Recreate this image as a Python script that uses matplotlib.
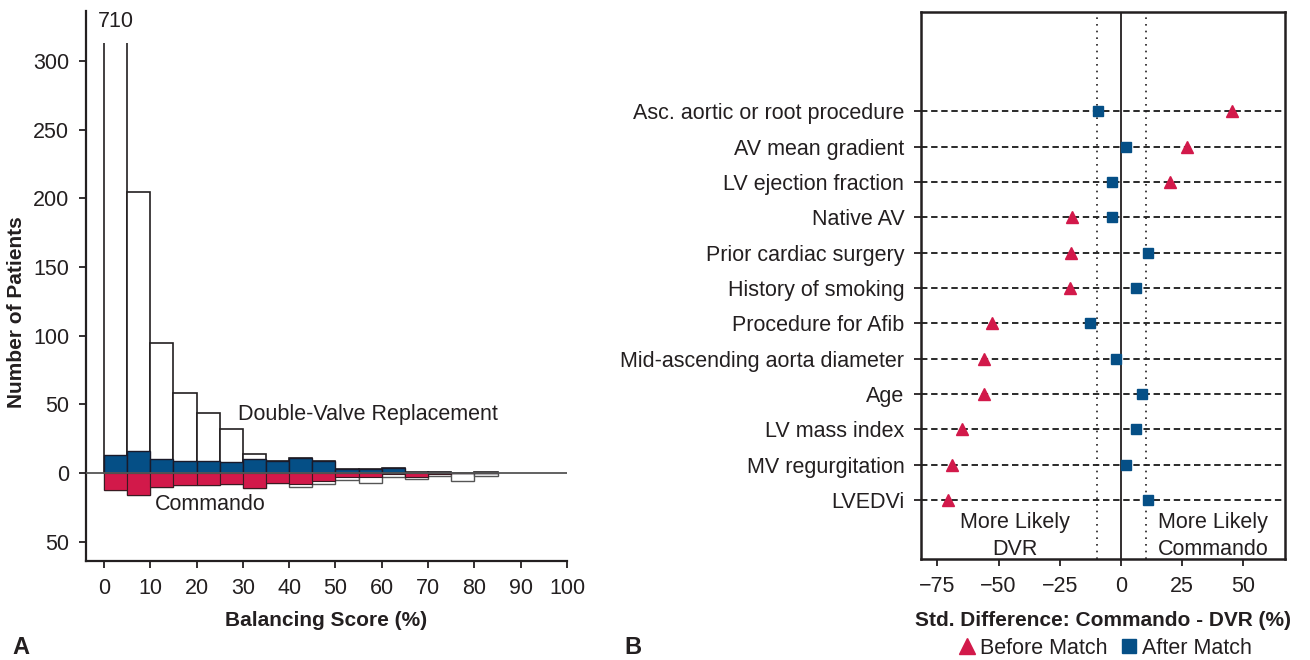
import matplotlib
matplotlib.use("Agg")
import matplotlib.pyplot as plt
from matplotlib.patches import Rectangle
from matplotlib.lines import Line2D
import numpy as np

plt.rcParams['font.family'] = ['Liberation Sans', 'DejaVu Sans']
INK = '#231f20'
RED = '#d2194a'
BLUE = '#054f86'
FS = 15.5
LFS = 15

# Panel A: balancing score histogram (5% bins)
bin_left = np.arange(0, 85, 5)
dvr_all = [710, 205, 95, 58, 44, 32, 14, 9, 11, 9, 3, 3, 4, 1, 1, 0, 1]
dvr_matched = [13, 16, 10, 9, 9, 8, 10, 9, 11, 9, 3, 3, 4, 0, 1, 0, 0]
cmd_all = [12, 16, 10, 9, 9, 8, 11, 7, 10, 8, 5, 7, 3, 4, 2, 6, 2]
cmd_matched = [12, 16, 10, 9, 9, 8, 11, 7, 8, 6, 3, 3, 1, 3, 1, 0, 0]
bar_cap = 313

# Panel B: standardized differences
variables = ['Asc. aortic or root procedure', 'AV mean gradient', 'LV ejection fraction',
             'Native AV', 'Prior cardiac surgery', 'History of smoking',
             'Procedure for Afib', 'Mid-ascending aorta diameter', 'Age',
             'LV mass index', 'MV regurgitation', 'LVEDVi']
before_match = [45.5, 27, 20, -20, -20.3, -20.7, -52.5, -56, -56, -65, -69, -70.8]
after_match = [-9.2, 1.9, -3.5, -3.5, 11.1, 6.2, -12.5, -2.2, 8.7, 6.2, 1.9, 11.1]

fig = plt.figure(figsize=(13.1, 6.6), dpi=100)
axA = fig.add_axes([0.0656, 0.15, 0.3672, 0.8333])
axB = fig.add_axes([0.703, 0.153, 0.278, 0.829])

# ---- Panel A ----
clip = Rectangle((-10, -100), 120, bar_cap + 100, transform=axA.transData)
white_up = axA.bar(bin_left, dvr_all, width=5, align='edge', color='white',
                   edgecolor=INK, linewidth=1.2, zorder=2)
for b in white_up:
    b.set_clip_path(clip)
axA.bar(bin_left, dvr_matched, width=5, align='edge', color=BLUE,
        edgecolor='#1a1a2a', linewidth=1.0, zorder=3)
axA.bar(bin_left, -np.array(cmd_all), width=5, align='edge', color='white',
        edgecolor='#555555', linewidth=1.0, zorder=2)
axA.bar(bin_left, -np.array(cmd_matched), width=5, align='edge', color=RED,
        edgecolor='#3a1a22', linewidth=0.8, zorder=3)
axA.axhline(0, color='#555555', linewidth=1.3, zorder=4)

axA.text(bin_left[0] + 2.5, 329, str(dvr_all[0]), ha='center', va='center',
         fontsize=FS, color=INK)
axA.text(29, 43, 'Double-Valve Replacement', ha='left', va='center',
         fontsize=FS, color=INK)
axA.text(11, -23, 'Commando', ha='left', va='center', fontsize=FS, color=INK)

axA.set_xlim(-3.9, 100)
axA.set_ylim(-64, 336.5)
axA.set_xticks(np.arange(0, 101, 10))
yt = [-50, 0, 50, 100, 150, 200, 250, 300]
axA.set_yticks(yt)
axA.set_yticklabels([str(abs(v)) for v in yt])
for s in ['top', 'right']:
    axA.spines[s].set_visible(False)
for s in ['left', 'bottom']:
    axA.spines[s].set_linewidth(1.6)
    axA.spines[s].set_color(INK)
axA.tick_params(direction='out', length=5, width=1.3, labelsize=FS, colors=INK, pad=7)
axA.set_xlabel('Balancing Score (%)', fontsize=LFS, fontweight='bold', color=INK, labelpad=9)
axA.set_ylabel('Number of Patients', fontsize=LFS, fontweight='bold', color=INK)
axA.yaxis.set_label_coords(-0.125, 0.453)

# ---- Panel B ----
ypos = np.arange(len(variables), 0, -1)
for y in ypos:
    axB.axhline(y, color='#2a2a2a', linewidth=1.4, linestyle=(0, (3.3, 1.9)), zorder=1)
axB.axvline(0, color=INK, linewidth=1.3, zorder=1)
for xv in (-10, 10):
    axB.axvline(xv, color=INK, linewidth=1.2, linestyle=(0, (1, 3)), zorder=1)
axB.plot(before_match, ypos, linestyle='none', marker='^', markersize=9,
         color=RED, zorder=3)
axB.plot(after_match, ypos, linestyle='none', marker='s', markersize=6.8,
         color=BLUE, zorder=3)

axB.text(-43.5, -0.02, 'More Likely\nDVR', ha='center', va='center', fontsize=FS,
         color=INK, linespacing=1.38)
axB.text(37.5, -0.02, 'More Likely\nCommando', ha='center', va='center', fontsize=FS,
         color=INK, linespacing=1.38)

axB.set_xlim(-81.7, 67)
axB.set_ylim(-0.67, 14.82)
axB.set_xticks([-75, -50, -25, 0, 25, 50])
axB.set_xticklabels(['\u221275', '\u221250', '\u221225', '0', '25', '50'])
axB.set_yticks(ypos)
axB.set_yticklabels(variables)
for s in axB.spines.values():
    s.set_linewidth(1.8)
    s.set_color(INK)
axB.tick_params(direction='out', length=5, width=1.3, labelsize=FS, colors=INK, pad=7)
axB.set_xlabel('Std. Difference: Commando - DVR (%)', fontsize=LFS,
               fontweight='bold', color=INK, labelpad=10)

handles = [Line2D([], [], linestyle='none', marker='^', markersize=11, color=RED),
           Line2D([], [], linestyle='none', marker='s', markersize=10, color=BLUE)]
fig.legend(handles, ['Before Match', 'After Match'], loc='center', ncol=2,
           bbox_to_anchor=(1104 / 1310, 1 - 648 / 660), frameon=False,
           fontsize=FS, handletextpad=0.1, columnspacing=0.5, handlelength=1.0,
           labelcolor=INK, borderpad=0)

fig.text(12 / 1310, 1 - 648 / 660, 'A', fontsize=17, fontweight='bold',
         color=INK, ha='left', va='center')
fig.text(624 / 1310, 1 - 648 / 660, 'B', fontsize=17, fontweight='bold',
         color=INK, ha='left', va='center')

fig.savefig('out.png', dpi=100)
